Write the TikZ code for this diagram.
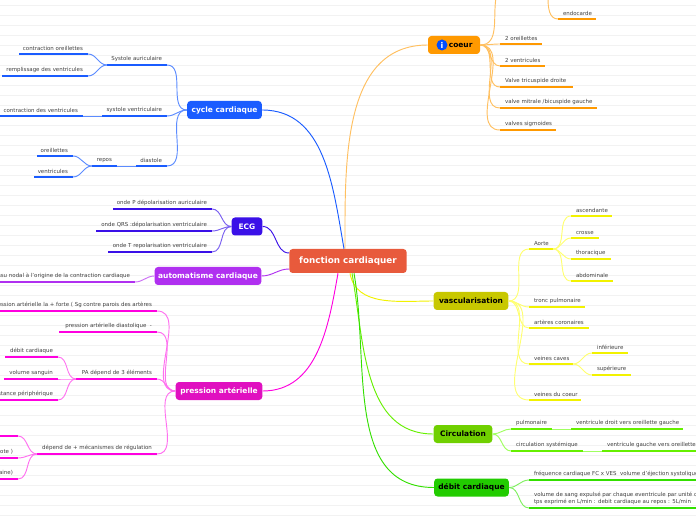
\documentclass[tikz,border=0pt]{standalone}
\usepackage{fontspec}
\setmainfont{DejaVu Sans}
\begin{document}
\begin{tikzpicture}[x=0.75pt,y=-0.75pt,
 ul/.style={line width=2.2pt},
 cn/.style={line width=0.7pt},
 lt/.style={font=\fontsize{4.1}{5}\selectfont,text=black!75,inner sep=0.6pt,align=left},
 mn/.style={rounded corners=2.5pt,font=\fontsize{5.6}{6.5}\selectfont\bfseries,text=white,minimum height=13.5pt,inner sep=1pt}]
\definecolor{cOr}{HTML}{FF9900}\definecolor{lOr}{HTML}{FFC060}
\definecolor{cBl}{HTML}{1A5CFF}\definecolor{lBl}{HTML}{5C8CFF}
\definecolor{cEc}{HTML}{3A10E8}\definecolor{lEc}{HTML}{7A60F0}
\definecolor{cAu}{HTML}{B030F0}\definecolor{lAu}{HTML}{CC70F5}
\definecolor{cPr}{HTML}{FF00E0}\definecolor{bPr}{HTML}{E010C0}\definecolor{lPr}{HTML}{FF70F0}
\definecolor{cVa}{HTML}{F2F200}\definecolor{bVa}{HTML}{C8C800}\definecolor{lVa}{HTML}{FFFF70}
\definecolor{cCi}{HTML}{66F000}\definecolor{bCi}{HTML}{70D000}\definecolor{lCi}{HTML}{A0FF60}
\definecolor{cDe}{HTML}{33E000}\definecolor{bDe}{HTML}{22CC00}\definecolor{lDe}{HTML}{80F060}
\definecolor{cCe}{HTML}{E85A3C}
\newcommand\leafR[6]{\coordinate (#1) at (#2,#4); \coordinate (#1-r) at (#3,#4); \draw[ul,#5] (#1) -- (#1-r); \node[lt,anchor=south west] (#1-t) at ([xshift=3pt,yshift=2pt]#1) {#6};}
\newcommand\leafL[6]{\coordinate (#1) at (#2,#4); \coordinate (#1-r) at (#3,#4); \draw[ul,#5] (#1) -- (#1-r); \node[lt,anchor=south east] (#1-t) at ([xshift=-3pt,yshift=2pt]#1-r) {#6};}
\useasboundingbox (0,0) rectangle (696,520);
\clip (0,0) rectangle (696,520);
\fill[white] (0,0) rectangle (696,520);
\foreach \y in {5,15,...,515} \draw[black!5,line width=0.3pt] (0,\y) -- (696,\y);
% center
\node[mn,fill=cCe,minimum width=88pt,minimum height=18pt,font=\fontsize{6.6}{7.5}\selectfont\bfseries] (C) at (348,261) {fonction cardiaquer};
% coeur
\node[mn,fill=cOr,minimum width=39pt,text=black] (co) at (454,45) {\hspace{10pt}coeur};
\fill[blue!70!cyan] (442,45) circle (5.5);
\node[font=\fontsize{6}{6}\selectfont\bfseries,text=white,inner sep=0] (coi) at (442,45) {i};
\draw[cn,lOr] (345,249) to[out=90,in=180] (co.west);
\coordinate (ctop) at (496,-2);
\draw[cn,lOr] (co.east) to[out=0,in=260] (ctop);
\coordinate (ctop2) at (548,-2);
\leafR{endo}{558}{596}{19}{cOr}{endocarde}
\draw[cn,lOr] (ctop2) to[out=270,in=180] (endo);
\leafR{c1}{500}{542}{44}{cOr}{2 oreillettes}
\leafR{c2}{500}{545}{66}{cOr}{2 ventricules}
\leafR{c3}{500}{573}{87}{cOr}{Valve tricuspide droite}
\leafR{c4}{500}{597}{108}{cOr}{valve mitrale /bicuspide gauche}
\leafR{c5}{500}{556}{130}{cOr}{valves sigmoides}
\foreach \n in {c1,c2,c3,c4,c5} \draw[cn,lOr] (co.east) to[out=0,in=180] (\n);
% cycle
\node[mn,fill=cBl,minimum width=56pt] (cy) at (224.5,110) {cycle cardiaque};
\draw[cn,cBl] (C.north) ++(-4,0) to[out=100,in=0] (cy.east);
\leafL{sa}{107}{167}{65}{cBl}{Systole auriculaire}
\leafL{sa1}{19}{88}{54}{cBl}{contraction oreillettes}
\leafL{sa2}{2}{88}{76}{cBl}{remplissage des ventricules}
\leafL{sv}{102}{167}{116}{cBl}{systole ventriculaire}
\leafL{sv1}{-2}{83}{116}{cBl}{contraction des ventricules}
\leafL{di}{136}{167}{166}{cBl}{diastole}
\leafL{re}{92}{117}{166}{cBl}{repos}
\leafL{re1}{37}{73}{156}{cBl}{oreillettes}
\leafL{re2}{34}{73}{177}{cBl}{ventricules}
\foreach \n in {sa,sv,di} \draw[cn,lBl] (cy.west) to[out=180,in=0] (\n-r);
\foreach \n in {sa1,sa2} \draw[cn,lBl] (sa) to[out=180,in=0] (\n-r);
\draw[cn,lBl] (sv) -- (sv1-r);
\draw[cn,lBl] (di) -- (re-r);
\foreach \n in {re1,re2} \draw[cn,lBl] (re) to[out=180,in=0] (\n-r);
% ECG
\node[mn,fill=cEc,minimum width=23pt] (ec) at (247,226.5) {ECG};
\draw[cn,cEc] (C.west) ++(0,-8) to[out=180,in=0] (ec.east);
\leafL{e1}{113}{212}{209}{cEc}{onde P dépolarisation auriculaire}
\leafL{e2}{96}{212}{231}{cEc}{onde QRS :dépolarisation ventriculaire}
\leafL{e3}{108}{212}{252}{cEc}{onde T repolarisation ventriculaire}
\foreach \n in {e1,e2,e3} \draw[cn,lEc] (ec.west) to[out=180,in=0] (\n-r);
% automatisme
\node[mn,fill=cAu,minimum width=80pt] (au) at (208,276) {automatisme cardiaque};
\draw[cn,cAu] (C.west) ++(0,8) to[out=180,in=0] (au.east);
\leafL{a1}{-2}{135}{282}{cAu}{tissu nodal à l'origine de la contraction cardiaque}
\draw[cn,lAu] (au.west) to[out=180,in=0] (a1-r);
% pression
\node[mn,fill=bPr,minimum width=65pt] (pr) at (219,391) {pression artérielle};
\draw[cn,cPr] (C.south) ++(-10,0) to[out=260,in=0] (pr.east);
\leafL{p1}{-2}{157}{311}{cPr}{pression artérielle la + forte ( Sg contre parois des artères}
\leafL{p2}{59}{157}{332}{cPr}{pression artérielle diastolique \ -}
\leafL{p3}{76}{157}{379}{cPr}{PA dépend de 3 éléments}
\leafL{p31}{5}{58}{357}{cPr}{débit cardiaque}
\leafL{p32}{4}{58}{379}{cPr}{volume sanguin}
\leafL{p33}{-2}{58}{400}{cPr}{résistance périphérique}
\leafL{p4}{37}{157}{454}{cPr}{dépend de + mécanismes de régulation}
\leafL{p41}{-2}{18}{436}{cPr}{}
\leafL{p42}{-2}{18}{458}{cPr}{ote )}
\leafL{p43}{-2}{18}{479}{cPr}{aine)}
\foreach \n in {p1,p2,p3,p4} \draw[cn,lPr] (pr.west) to[out=180,in=0] (\n-r);
\foreach \n in {p31,p32,p33} \draw[cn,lPr] (p3) to[out=180,in=0] (\n-r);
\foreach \n in {p41,p42,p43} \draw[cn,lPr] (p4) to[out=180,in=0] (\n-r);
% vascularisation
\node[mn,fill=bVa,minimum width=56pt,text=black] (va) at (471,301) {vascularisation};
\draw[cn,cVa] (C.south) ++(2,0) to[out=-80,in=180] (va.west);
\leafR{v1}{529}{553}{249}{cVa}{Aorte}
\leafR{v11}{571}{612}{216}{cVa}{ascendante}
\leafR{v12}{571}{599}{238}{cVa}{crosse}
\leafR{v13}{571}{611}{259}{cVa}{thoracique}
\leafR{v14}{571}{613}{281}{cVa}{abdominale}
\leafR{v2}{529}{585}{307}{cVa}{tronc pulmonaire}
\leafR{v3}{529}{589}{328}{cVa}{artères coronaires}
\leafR{v4}{529}{573}{364}{cVa}{veines caves}
\leafR{v41}{592}{628}{353}{cVa}{inférieure}
\leafR{v42}{592}{631}{375}{cVa}{supérieure}
\leafR{v5}{529}{581}{400}{cVa}{veines du coeur}
\foreach \n in {v1,v2,v3,v4,v5} \draw[cn,lVa] (va.east) to[out=0,in=180] (\n);
\foreach \n in {v11,v12,v13,v14} \draw[cn,lVa] (v1-r) to[out=0,in=180] (\n);
\foreach \n in {v41,v42} \draw[cn,lVa] (v4-r) to[out=0,in=180] (\n);
% Circulation
\node[mn,fill=bCi,minimum width=44pt,text=black] (ci) at (463,434) {Circulation};
\draw[cn,cCi] (C.south) ++(4,0) to[out=-80,in=180] (ci.west);
\leafR{i1}{511}{552}{429}{cCi}{pulmonaire}
\leafR{i11}{571}{683}{429}{cCi}{ventricule droit vers oreillette gauche}
\leafR{i2}{511}{583}{451}{cCi}{circulation systémique}
\leafR{i21}{602}{700}{451}{cCi}{ventricule gauche vers oreillette droite}
\foreach \n in {i1,i2} \draw[cn,lCi] (ci.east) to[out=0,in=180] (\n);
\draw[cn,lCi] (i1-r) -- (i11);
\draw[cn,lCi] (i2-r) -- (i21);
% debit
\node[mn,fill=bDe,minimum width=56pt,text=black] (de) at (471.5,487.5) {débit cardiaque};
\draw[cn,cDe] (C.south) ++(6,0) to[out=-80,in=180] (de.west);
\leafR{d1}{529}{700}{480}{cDe}{fréquence cardiaque FC x VES \ volume d'éjection systolique}
\leafR{d2}{529}{700}{508}{cDe}{volume de sang expulsé par chaque eventricule par unité de\\tps exprimé en L/min : debit cardiaque au repos : 5L/min}
\foreach \n in {d1,d2} \draw[cn,lDe] (de.east) to[out=0,in=180] (\n);
\end{tikzpicture}
\end{document}
